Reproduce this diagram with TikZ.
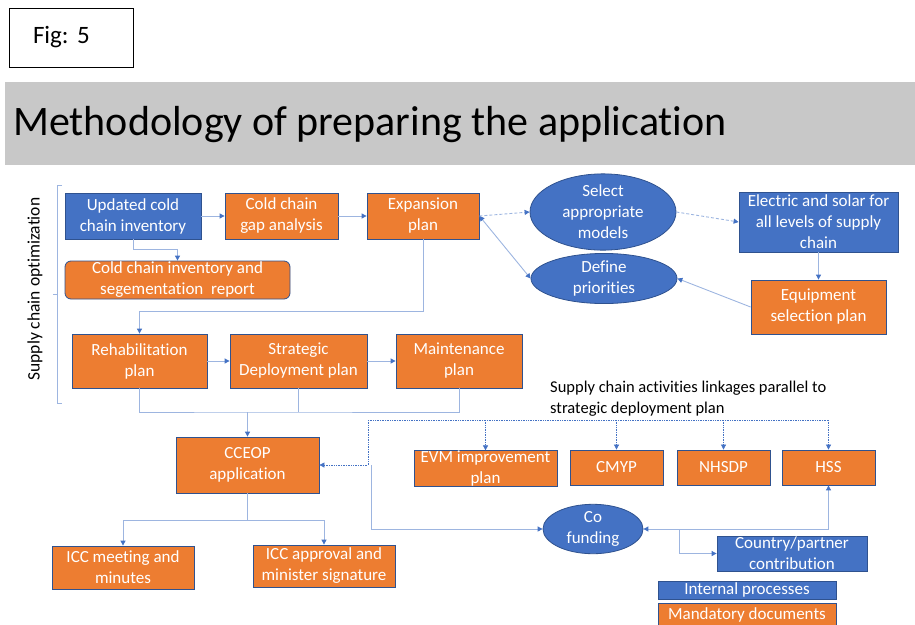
\documentclass[tikz,border=0pt]{standalone}
\usepackage{fontspec}
\setmainfont{Carlito}[Ligatures=NoCommon]
\usepackage{tikz}
\usetikzlibrary{arrows.meta, positioning, shapes.geometric}
\usepackage{xcolor}
\definecolor{myblue}{HTML}{4472C4}
\definecolor{myorange}{HTML}{ED7D31}
\definecolor{myedge}{HTML}{2F528F}
\definecolor{mylink}{HTML}{9DB5E0}
\definecolor{mygrey}{HTML}{C8C8C8}
\frenchspacing
\tikzset{
	box/.style={draw=myedge, line width=0.8pt, text=white, align=center, inner sep=0pt, font=\fontsize{17}{21}\selectfont},
	bluebox/.style={box, fill=myblue},
	orangebox/.style={box, fill=myorange},
	blob/.style={box, ellipse, fill=myblue},
	line/.style={draw=mylink, line width=0.9pt},
	link/.style={line, -{Triangle[length=5pt,width=5pt,color=myblue]}},
	twolink/.style={line, {Triangle[length=5pt,width=5pt,color=myblue]}-{Triangle[length=5pt,width=5pt,color=myblue]}},
	dotline/.style={draw=myblue, line width=0.7pt, densely dotted},
	dotlink/.style={dotline, -{Triangle[length=5pt,width=5pt,color=myblue]}},
	plain/.style={text=black, inner sep=0pt}
}

\begin{document}
\begin{tikzpicture}[x=1pt, y=-1pt]
				\useasboundingbox (0,0) rectangle (915,624);
				\node[draw, line width=1pt, text width=76pt, inner xsep=24pt, minimum height=59pt, align=left, font=\fontsize{25}{30}\selectfont] (fig) at (71,37.5) {Fig: 5};
				\fill[mygrey] (5,82) rectangle (915,165);
				\node[anchor=west, inner sep=0pt, font=\fontsize{42}{48}\selectfont] (title) at (13,125) {Methodology of preparing the application};
				\draw[line] (62,185) -- (57,185) -- (57,403) -- (62,403);
				\draw[line] (57,294) -- (53,294);
				\node[plain, rotate=90, font=\fontsize{17.5}{21}\selectfont] (sco) at (35,289) {Supply chain optimization};
				\node[bluebox, minimum width=136pt, minimum height=46pt] (upd) at (133,216) {Updated cold\\chain inventory};
				\node[orangebox, minimum width=113pt, minimum height=46pt] (gap) at (281.5,216) {Cold chain\\gap analysis};
				\node[orangebox, minimum width=112pt, minimum height=46pt] (exp) at (423,216) {Expansion\\plan};
				\node[orangebox, rounded corners=6pt, minimum width=225pt, minimum height=38pt] (rep) at (177.5,280) {Cold chain inventory and\\segementation\ \ report};
				\node[orangebox, minimum width=135pt, minimum height=54pt] (reh) at (139.5,361) {Rehabilitation\\plan};
				\node[orangebox, minimum width=137pt, minimum height=54pt] (sdp) at (298.5,361) {Strategic\\Deployment plan};
				\node[orangebox, minimum width=126pt, minimum height=54pt] (mnt) at (459,361) {Maintenance\\plan};
				\node[blob, minimum width=146pt, minimum height=55pt] (sel) at (603,212) {Select\\appropriate\\models};
				\node[blob, minimum width=146pt, minimum height=45pt] (def) at (604,278.5) {Define\\priorities};
				\node[bluebox, minimum width=159pt, minimum height=60pt] (ele) at (818.5,222) {Electric and solar for\\all levels of supply\\chain};
				\node[orangebox, minimum width=135pt, minimum height=54pt] (equ) at (818.5,307) {Equipment\\selection plan};
				\node[orangebox, minimum width=143pt, minimum height=56pt] (cce) at (247.5,465) {CCEOP\\application};
				\node[orangebox, minimum width=142pt, minimum height=43pt] (iccm) at (123,567.5) {ICC meeting and\\minutes};
				\node[orangebox, minimum width=142pt, minimum height=42pt] (icca) at (324,566) {ICC approval and\\minister signature};
				\node[plain, anchor=west, align=left, font=\fontsize{16.5}{21}\selectfont] (note) at (550,399) {Supply chain activities linkages parallel to\\strategic deployment plan};
				\node[orangebox, minimum width=143pt, minimum height=35pt] (evm) at (485.5,468.5) {EVM improvement\\plan};
				\node[orangebox, minimum width=93pt, minimum height=35pt] (cmyp) at (616.5,467.5) {CMYP};
				\node[orangebox, minimum width=93pt, minimum height=35pt] (nhsdp) at (723.5,467.5) {NHSDP};
				\node[orangebox, minimum width=93pt, minimum height=35pt] (hss) at (828.5,467.5) {HSS};
				\node[blob, minimum width=100pt, minimum height=46pt] (cof) at (593,529) {Co\\funding};
				\node[bluebox, minimum width=150pt, minimum height=35pt] (cpc) at (792,553.5) {Country/partner\\contribution};
				\node[bluebox, minimum width=178pt, minimum height=18pt] (kint) at (747,590) {Internal processes};
				\node[orangebox, minimum width=178pt, minimum height=24pt] (kman) at (747,615) {Mandatory documents};
				\draw[link] (upd) -- (gap);
				\draw[link] (gap) -- (exp);
				\draw[link] (upd.south) -- ++(0,10) -| (rep.north);
				\draw[link] (exp.south) -- ++(0,72) -| (reh.north);
				\draw[link] (reh) -- (sdp);
				\draw[link] (sdp) -- (mnt);
				\draw[link, densely dashed] (exp.east) -- (sel.west);
				\draw[twolink] (exp.east) -- (def.west);
				\draw[link, densely dashed] (sel.east) -- (ele.west);
				\draw[link] (ele) -- (equ);
				\draw[link] (equ.west) -- (def.east);
				\coordinate (join) at (247.5,412);
				\draw[line] (reh.south) |- (join) -| (mnt.south);
				\draw[line] (sdp.south) -- (sdp.south |- join);
				\draw[link] (join) -- (cce);
				\draw[link] (cce.south) -- ++(0,27) -| (iccm.north);
				\draw[link] (cce.south) -- ++(0,27) -| (icca.north);
				\coordinate (tap) at (368,420);
				\draw[dotlink] (tap) |- (cce.east);
				\draw[dotline] (tap) -- (tap -| hss.north);
				\foreach \n in {evm, cmyp, nhsdp, hss}
					\draw[dotlink] (tap -| \n.north) -- (\n.north);
				\draw[link] ([xshift=52pt]cce.east) |- (cof.west);
				\draw[twolink] (cof.east) -| (hss.south);
				\draw[link] ([xshift=36pt]cof.east) |- (cpc.west);
			\end{tikzpicture}
\end{document}
